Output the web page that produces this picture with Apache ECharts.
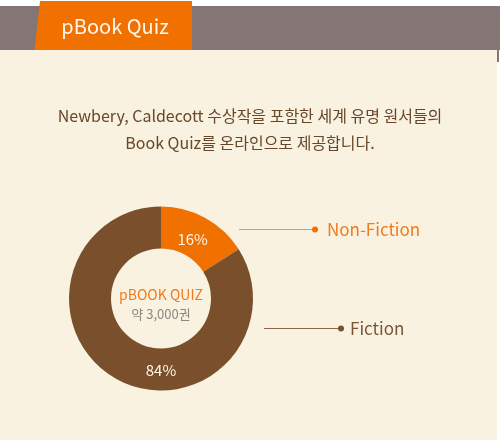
<!DOCTYPE html>
<html>
<head>
<meta charset="utf-8">
<script src="https://cdn.jsdelivr.net/npm/echarts@6/dist/echarts.min.js"></script>
<style>html,body{margin:0;padding:0;background:#fff;}#c{width:500px;height:440px;}</style>
</head>
<body>
<div id="c"></div>
<script>
// ---- data ----
var categories = ['Non-Fiction', 'Fiction'];
var shares = [16, 84];               // percent
var headerLabel = 'pBook Quiz';
var subtitleLines = ['Newbery, Caldecott 수상작을 포함한 세계 유명 원서들의', 'Book Quiz를 온라인으로 제공합니다.'];
var centerLines = ['pBOOK QUIZ', '약 3,000권'];

// ---- style ----
var FONT = '"Noto Sans CJK KR", "Noto Sans", sans-serif';
var ORANGE = '#f07000';
var BROWN = '#7a4f2b';
var CREAM = '#f9f2e1';
var CX = 161, CY = 298.5, R_IN = 50, R_OUT = 92;

var chart = echarts.init(document.getElementById('c'), null, {renderer: 'canvas'});

var option = {
  backgroundColor: CREAM,
  animation: false,
  title: {
    text: subtitleLines.join('\n'),
    left: 'center',
    top: 97,
    textStyle: {fontFamily: FONT, fontSize: 16, fontWeight: 'normal', color: '#674629', lineHeight: 27}
  },
  graphic: [
    {type: 'rect', shape: {x: 0, y: 0, width: 500, height: 6}, style: {fill: '#ffffff'}, silent: true},
    {type: 'rect', shape: {x: 0, y: 6, width: 500, height: 44}, style: {fill: '#837674'}, silent: true},
    {type: 'rect', shape: {x: 497, y: 50, width: 3, height: 390}, style: {fill: '#ffffff'}, silent: true},
    {type: 'rect', shape: {x: 497, y: 50, width: 2, height: 12}, style: {fill: '#837674'}, silent: true},
    {type: 'polygon', shape: {points: [[40, 1], [192, 1], [192, 50], [34.5, 50]]}, style: {fill: ORANGE}, silent: true},
    {type: 'text', x: 115, y: 26, style: {text: headerLabel, fontFamily: FONT, fontSize: 20, fill: '#fff8ee', align: 'center', verticalAlign: 'middle'}, silent: true},
    {type: 'text', x: CX, y: 295, style: {text: centerLines[0], fontFamily: FONT, fontSize: 14, fill: '#f27a1a', align: 'center', verticalAlign: 'middle'}, silent: true},
    {type: 'text', x: CX, y: 314.5, style: {text: centerLines[1], fontFamily: FONT, fontSize: 13, fill: '#8e8580', align: 'center', verticalAlign: 'middle'}, silent: true},
    // leader for Non-Fiction
    {type: 'line', shape: {x1: 239, y1: 229.5, x2: 315, y2: 229.5}, style: {stroke: '#f3955a', lineWidth: 1}, silent: true},
    {type: 'circle', shape: {cx: 315, cy: 229.5, r: 3}, style: {fill: ORANGE}, silent: true},
    {type: 'text', x: 327, y: 230, style: {text: categories[0], fontFamily: FONT, fontSize: 17, fill: '#f2791c', align: 'left', verticalAlign: 'middle'}, silent: true},
    // leader for Fiction
    {type: 'line', shape: {x1: 264, y1: 328.5, x2: 341, y2: 328.5}, style: {stroke: '#8a6548', lineWidth: 1}, silent: true},
    {type: 'circle', shape: {cx: 341, cy: 328.5, r: 3}, style: {fill: BROWN}, silent: true},
    {type: 'text', x: 350, y: 328.5, style: {text: categories[1], fontFamily: FONT, fontSize: 17, fill: '#7a5535', align: 'left', verticalAlign: 'middle'}, silent: true}
  ],
  series: [{
    type: 'pie',
    center: [CX, CY],
    radius: [R_IN, R_OUT],
    startAngle: 90,
    clockwise: true,
    silent: true,
    avoidLabelOverlap: false,
    itemStyle: {borderWidth: 0},
    label: {
      show: true,
      position: 'inside',
      formatter: '{c}%',
      fontFamily: FONT,
      fontSize: 15,
      color: '#fff6ea'
    },
    labelLine: {show: false},
    labelLayout: function (p) {
      if (p.dataIndex === 1) {
        return {x: CX, y: CY + (R_IN + R_OUT) / 2 + 1};
      }
      return {dx: -4, dy: 6};
    },
    data: categories.map(function (name, i) {
      return {name: name, value: shares[i], itemStyle: {color: i === 0 ? ORANGE : BROWN}};
    })
  }]
};
chart.setOption(option);
</script>
</body>
</html>
